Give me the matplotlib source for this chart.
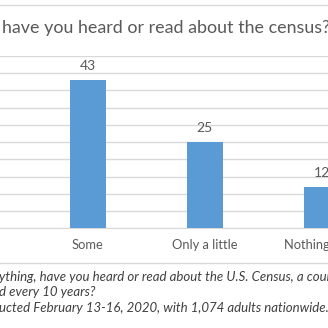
import matplotlib
matplotlib.use("Agg")
import matplotlib.pyplot as plt
from matplotlib.lines import Line2D

categories = ["Some", "Only a little", "Nothing at all"]
values = [43, 25, 12]
title = "have you heard or read about the census?"
notes = [
    "ything, have you heard or read about the U.S. Census, a count of every person",
    "d every 10 years?",
    "ucted February 13-16, 2020, with 1,074 adults nationwide.",
]

BLUE = "#5B9BD5"
GRID = "#D9D9D9"
TEXT = "#595959"
W = H = 328

plt.rcParams["font.family"] = ["Lato", "DejaVu Sans"]

fig = plt.figure(figsize=(W / 100, H / 100), dpi=100)
fig.patch.set_facecolor("white")

# plot area runs past the left/right edges of the canvas
left_px, right_px = -87.8, 380.2
base_px, top_px = 228.3, 56.0
ax = fig.add_axes([left_px / W, 1 - base_px / H,
                   (right_px - left_px) / W, (base_px - top_px) / H])

x = range(len(categories))
bars = ax.bar(x, values, width=0.31, color=BLUE, zorder=3)
ax.bar_label(bars, labels=[str(v) for v in values], padding=6,
             fontsize=10, color=TEXT)

# one more category slot sits off the left edge
ax.set_xlim(-1.5, len(categories) - 0.5)
ax.set_ylim(0, 50)
ax.set_yticks(range(0, 51, 5))
ax.set_yticklabels([])
ax.grid(axis="y", color=GRID, linewidth=1, zorder=0)
ax.set_xticks(list(x))
ax.set_xticklabels(categories, fontsize=9.3, color=TEXT)
ax.tick_params(length=0, pad=8)
for side in ["top", "left", "right"]:
    ax.spines[side].set_visible(False)
ax.spines["bottom"].set_color(GRID)

fig.text(2 / W, 1 - 28 / H, title, fontsize=12.9, color=TEXT,
         ha="left", va="center")

for y in (5, 263):
    fig.add_artist(Line2D([0, 1], [1 - y / H] * 2, color=GRID, lw=1,
                          transform=fig.transFigure))

for y, line in zip((277, 292.5, 308), notes):
    fig.text(-1 / W, 1 - y / H, line, fontsize=9.5, style="italic",
             color="#404040", ha="left", va="center")

fig.savefig("out.png", dpi=100, facecolor="white")
